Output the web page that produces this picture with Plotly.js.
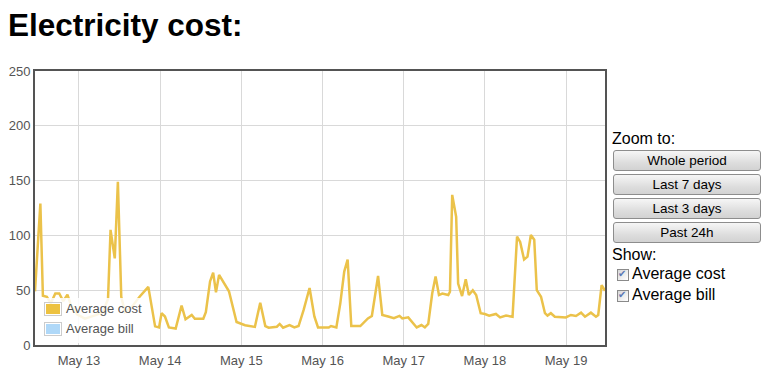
<!DOCTYPE html>
<html>
<head>
<meta charset="utf-8">
<script src="https://cdn.plot.ly/plotly-3.0.1.min.js"></script>
<style>
  html, body { margin:0; padding:0; background:#fff; width:783px; height:382px; overflow:hidden; font-family:"Liberation Sans", Arial, sans-serif; }
  #chart { position:absolute; left:0; top:0; width:783px; height:382px; }
  .lbl { position:absolute; color:#000; white-space:nowrap; }
  .btn { position:absolute; left:613px; width:146px; height:19px; border:1px solid #8d8d8d; border-radius:3px;
         background:linear-gradient(#f6f6f6, #dedede 60%, #d2d2d2); font-size:13.5px; line-height:19px; text-align:center; color:#000; }
  .cb { position:absolute; left:617px; width:10px; height:10px; border:1px solid #8a8a8a;
        background:linear-gradient(135deg, #d8d8d8, #ffffff); }
  .cb span { position:absolute; left:0px; top:-2px; font-size:10px; color:#5a78b5; }
  #leg { position:absolute; left:40px; top:298px; width:106px; height:45px; background:rgba(255,255,255,0.85); }
  .sw { position:absolute; left:4px; width:14px; height:10px; border:1px solid #ccc; padding:1px; }
  .sw div { width:14px; height:10px; }
  .lt { position:absolute; left:26px; font-size:13px; color:#545454; }
</style>
</head>
<body>
<div id="chart"></div>
<div id="leg">
  <div class="sw" style="top:4px"><div style="background:#edc240"></div></div>
  <div class="lt" style="top:3px">Average cost</div>
  <div class="sw" style="top:24px"><div style="background:#afd8f8"></div></div>
  <div class="lt" style="top:23px">Average bill</div>
</div>
<div class="lbl" style="left:612px; top:130px; font-size:16px;">Zoom to:</div>
<div class="btn" style="top:150px;">Whole period</div>
<div class="btn" style="top:174px;">Last 7 days</div>
<div class="btn" style="top:198px;">Last 3 days</div>
<div class="btn" style="top:222px;">Past 24h</div>
<div class="lbl" style="left:612px; top:246px; font-size:16px;">Show:</div>
<div class="cb" style="top:269px;"><span>✔</span></div>
<div class="lbl" style="left:632px; top:265px; font-size:16px;">Average cost</div>
<div class="cb" style="top:290px;"><span>✔</span></div>
<div class="lbl" style="left:632px; top:286px; font-size:16px;">Average bill</div>
<script>
const times = [
"2013-05-12 11:00","2013-05-12 12:35","2013-05-12 13:20","2013-05-12 14:30","2013-05-12 15:40",
"2013-05-12 17:00","2013-05-12 18:10","2013-05-12 19:20","2013-05-12 20:35","2013-05-12 21:40",
"2013-05-12 23:25","2013-05-13 01:45","2013-05-13 04:45","2013-05-13 07:05","2013-05-13 08:35",
"2013-05-13 09:20","2013-05-13 10:35","2013-05-13 11:30","2013-05-13 12:30","2013-05-13 13:35",
"2013-05-13 15:40","2013-05-13 17:55","2013-05-13 20:30","2013-05-13 22:30","2013-05-13 23:40",
"2013-05-14 00:25","2013-05-14 01:25","2013-05-14 02:35","2013-05-14 04:35","2013-05-14 06:20",
"2013-05-14 07:30","2013-05-14 09:20","2013-05-14 10:15","2013-05-14 12:45","2013-05-14 13:30",
"2013-05-14 14:45","2013-05-14 15:40","2013-05-14 16:30","2013-05-14 17:25","2013-05-14 19:10",
"2013-05-14 20:20","2013-05-14 22:35","2013-05-15 01:05","2013-05-15 04:00","2013-05-15 05:35",
"2013-05-15 07:05","2013-05-15 08:05","2013-05-15 10:30","2013-05-15 11:20","2013-05-15 12:20",
"2013-05-15 14:15","2013-05-15 15:40","2013-05-15 16:55","2013-05-15 18:25","2013-05-15 20:10",
"2013-05-15 21:35","2013-05-15 22:40","2013-05-16 01:50","2013-05-16 02:30","2013-05-16 04:05",
"2013-05-16 05:15","2013-05-16 06:25","2013-05-16 07:25","2013-05-16 08:30","2013-05-16 11:10",
"2013-05-16 13:25","2013-05-16 14:35","2013-05-16 16:25","2013-05-16 17:40","2013-05-16 19:25",
"2013-05-16 21:05","2013-05-16 22:45","2013-05-16 23:35","2013-05-17 01:20","2013-05-17 02:30",
"2013-05-17 03:50","2013-05-17 05:15","2013-05-17 06:15","2013-05-17 07:15","2013-05-17 08:25",
"2013-05-17 09:25","2013-05-17 10:25","2013-05-17 11:25","2013-05-17 13:10","2013-05-17 13:40",
"2013-05-17 14:20","2013-05-17 15:30","2013-05-17 16:05","2013-05-17 17:15","2013-05-17 18:20",
"2013-05-17 19:15","2013-05-17 20:25","2013-05-17 21:25","2013-05-17 22:45","2013-05-18 00:00",
"2013-05-18 01:15","2013-05-18 03:15","2013-05-18 04:30","2013-05-18 06:15","2013-05-18 08:10",
"2013-05-18 09:30","2013-05-18 10:25","2013-05-18 11:35","2013-05-18 12:35","2013-05-18 13:35",
"2013-05-18 14:35","2013-05-18 15:20","2013-05-18 16:35","2013-05-18 17:45","2013-05-18 18:30",
"2013-05-18 19:30","2013-05-18 20:40","2013-05-18 23:55","2013-05-19 01:25","2013-05-19 02:55",
"2013-05-19 04:25","2013-05-19 05:35","2013-05-19 07:20","2013-05-19 08:50","2013-05-19 09:30",
"2013-05-19 10:30","2013-05-19 11:30"
];
const averageCost = [
49,129,45,44,38,
47,47,40,46,36,
28,24,27,30,42,
105,79,149,44,30,
35,44,53,17,16,
29,26,16,15,36,
23.5,27.5,24,24,30,
58,66,48,64,55,
49,21,18,16.5,38.5,
17.3,15.8,16.7,19.2,15.8,
18.2,16,17.3,32,52,
26,16,16,17.3,16,
38,67,78,17.3,17.3,
24.3,26.5,63,27.4,26,
24.5,26.6,24.3,25.2,20.4,
16,18.2,16,19.2,47,
62.5,45.6,47,45.6,48.6,
137,117,56,44.7,60,
45.6,50,45.6,29,28.3,
26.8,28.3,25.2,26.8,25.8,
99,94,78,80.6,100.4,
96,50,44,29,26.8,
29,25.8,25.2,27.4,26.5,
29.5,25.8,29.5,25.8,27.4,
54.7,49.5
];
const billTimes = [];
const averageBill = [];
const yTicks = [0, 50, 100, 150, 200, 250];
const xRange = ["2013-05-12 11:00", "2013-05-19 11:30"];

const traces = [
  { type:'scatter', mode:'lines', name:'Average bill', x: billTimes, y: averageBill,
    line:{ color:'#afd8f8', width:2.5 }, showlegend:false, hoverinfo:'skip' },
  { type:'scatter', mode:'lines', name:'Average cost', x: times, y: averageCost,
    line:{ color:'#ebc24a', width:2.5 }, showlegend:false }
];
const layout = {
  width:783, height:382,
  margin:{ l:35, r:178, t:71, b:37 },
  paper_bgcolor:'#fff', plot_bgcolor:'#fff',
  font:{ family:'"Liberation Sans", Arial, sans-serif', size:13, color:'#545454' },
  title:{ text:'Electricity cost:', font:{ family:'"Liberation Sans", Arial, sans-serif', size:31.5, color:'#000', weight:'bold' },
          x:8/783, xref:'container', xanchor:'left', y:1-25/382, yref:'container', yanchor:'middle' },
  showlegend:false,
  xaxis:{ type:'date', range:xRange, dtick:86400000, tick0:'2013-05-13', tickformat:'%b %d',
          showgrid:true, gridcolor:'#d9d9d9', gridwidth:1, showline:true, linecolor:'#545454', linewidth:2,
          mirror:true, zeroline:false, ticks:'', ticklabelstandoff:2, fixedrange:true },
  yaxis:{ range:[0,250], tickvals:yTicks, showgrid:true, gridcolor:'#d9d9d9', gridwidth:1,
          showline:true, linecolor:'#545454', linewidth:2, mirror:true, zeroline:false, ticks:'', fixedrange:true }
};
Plotly.newPlot('chart', traces, layout, { displayModeBar:false, staticPlot:true });
</script>
</body>
</html>
